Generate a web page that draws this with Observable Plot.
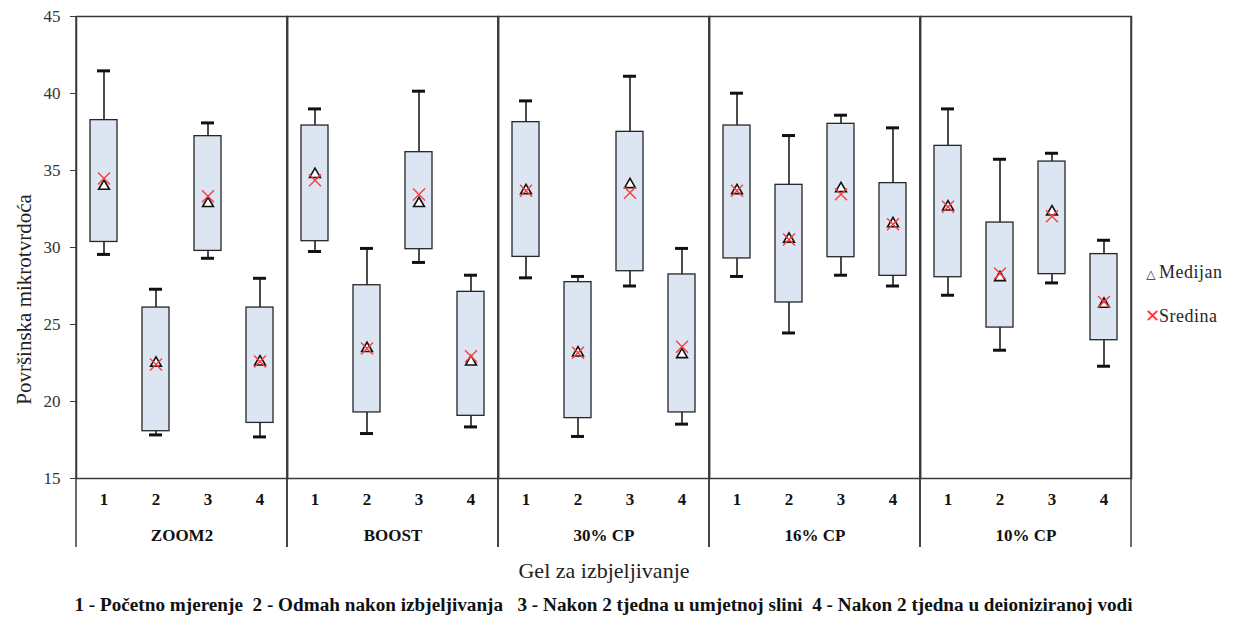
<!DOCTYPE html>
<html>
<head>
<meta charset="utf-8">
<script src="https://cdn.jsdelivr.net/npm/d3@7"></script>
<script src="https://cdn.jsdelivr.net/npm/@observablehq/plot@0.6"></script>
<style>
  html, body { margin: 0; padding: 0; background: #fff; }
  #wrap { position: relative; width: 1235px; height: 619px; font-family: 'Liberation Serif', 'DejaVu Serif', serif; }
  #legend { position: absolute; left: 1145px; top: 251px; font-size: 18px; color: #262626; line-height: 42px; letter-spacing: 0.5px; }
  #legend .sym { display: inline-block; width: 12px; text-align: center; margin-right: 2px; }
  #caption { box-sizing: border-box; width: 1235px; padding-right: 28px; text-align: center; font-weight: bold; font-size: 19.2px; color: #111; white-space: pre; height: 29px; line-height: 29px; }
</style>
</head>
<body>
<div id="wrap">
  <div id="chart"></div>
  <div id="legend">
    <div><span class="sym" style="font-size:12px;">△</span>Medijan</div>
    <div><span class="sym" style="color:#ff3030;">✕</span>Sredina</div>
  </div>
  <div id="caption">1 - Početno mjerenje  2 - Odmah nakon izbjeljivanja   3 - Nakon 2 tjedna u umjetnoj slini  4 - Nakon 2 tjedna u deioniziranoj vodi</div>
</div>
<script>
// Categories
const groups = ["ZOOM2", "BOOST", "30% CP", "16% CP", "10% CP"];
const stages = ["1", "2", "3", "4"];
const yTicks = [15, 20, 25, 30, 35, 40, 45];
const yTitle = "Površinska mikrotvrdoća";
const xTitle = "Gel za izbjeljivanje";

// Box statistics, group-major order (ZOOM2 1..4, BOOST 1..4, ...)
const minVals    = [29.55, 17.83, 29.30, 17.70,  29.74, 17.92, 29.03, 18.35,  28.03, 17.73, 27.50, 18.53,  28.12, 24.45, 28.20, 27.50,  26.90, 23.33, 27.70, 22.29];
const q1Vals     = [30.36, 18.07, 29.78, 18.61,  30.41, 19.29, 29.89, 19.07,  29.39, 18.92, 28.46, 19.29,  29.29, 26.43, 29.37, 28.16,  28.07, 24.80, 28.27, 23.98];
const medianVals = [33.98, 22.50, 32.86, 22.57,  34.75, 23.45, 32.86, 22.57,  33.70, 23.16, 34.09, 23.05,  33.70, 30.55, 33.83, 31.55,  32.64, 28.05, 32.31, 26.32];
const meanVals   = [34.48, 22.40, 33.33, 22.60,  34.37, 23.44, 33.44, 22.94,  33.68, 23.16, 33.55, 23.55,  33.68, 30.52, 33.46, 31.51,  32.64, 28.31, 32.03, 26.47];
const q3Vals     = [38.27, 26.10, 37.23, 26.10,  37.92, 27.55, 36.19, 27.12,  38.14, 27.75, 37.51, 28.25,  37.92, 34.07, 38.03, 34.18,  36.60, 31.62, 35.58, 29.57];
const maxVals    = [41.47, 27.29, 38.09, 28.00,  39.00, 29.94, 40.15, 28.20,  39.52, 28.12, 41.12, 29.94,  40.02, 37.27, 38.59, 37.77,  39.00, 35.73, 36.12, 30.47];

const data = [];
groups.forEach((g, gi) => stages.forEach((s, si) => {
  const i = gi * stages.length + si;
  data.push({group: g, stage: s, min: minVals[i], q1: q1Vals[i], median: medianVals[i], mean: meanVals[i], q3: q3Vals[i], max: maxVals[i]});
}));

const lineColor = "#3a3a3a";
const serif = "'Liberation Serif', 'DejaVu Serif', serif";

// Vertical separators of each facet, extended down through the category labels
function separators(index, scales, values, dimensions) {
  const [x0, x1] = scales.x.range();
  const [yb, yt] = scales.y.range();
  const g = d3.create("svg:g");
  for (const xx of [x0, x1]) {
    g.append("line")
      .attr("x1", xx).attr("x2", xx)
      .attr("y1", yt).attr("y2", yb + 69)
      .attr("stroke", lineColor).attr("stroke-width", 1.5);
  }
  return g.node();
}

const chart = Plot.plot({
  width: 1235,
  height: 590,
  marginTop: 16,
  marginLeft: 74,
  marginRight: 102,
  marginBottom: 112,
  style: {fontFamily: serif, fontSize: "17px", color: "#333", background: "#fff"},
  fx: {domain: groups, padding: 0, label: null},
  x: {domain: stages, paddingInner: 0.49, paddingOuter: 0.245, label: null},
  y: {domain: [15, 45], label: null},
  marks: [
    Plot.frame({stroke: lineColor, strokeWidth: 1.5}),
    separators,
    Plot.axisY({ticks: yTicks, tickSize: 6, tickPadding: 10, stroke: lineColor, fill: "#333", fontSize: 17, fontFamily: serif, label: null}),
    Plot.text([yTitle], {fx: () => groups[0], text: d => d, frameAnchor: "left", rotate: -90, textAnchor: "middle", dx: -52, dy: 52, fontSize: 21, fontFamily: serif, fill: "#222"}),
    Plot.axisX({tickSize: 0, tickPadding: 14, fontWeight: "bold", fontSize: 17, fontFamily: serif, fill: "#111", label: null}),
    Plot.axisFx({anchor: "bottom", tickSize: 0, tickPadding: 50, fontWeight: "bold", fontSize: 17, fontFamily: serif, fill: "#111", label: null}),
    Plot.axisFx({anchor: "bottom", tickSize: 0, tickFormat: () => "", label: xTitle, labelArrow: "none", labelAnchor: "center", labelOffset: 99, fontSize: 22, fontFamily: serif, fill: "#222"}),
    // whiskers
    Plot.ruleX(data, {fx: "group", x: "stage", y1: "min", y2: "q1", stroke: "#111", strokeWidth: 1.5}),
    Plot.ruleX(data, {fx: "group", x: "stage", y1: "q3", y2: "max", stroke: "#111", strokeWidth: 1.5}),
    Plot.tickY(data, {fx: "group", x: "stage", y: "min", stroke: "#111", strokeWidth: 3, insetLeft: 7, insetRight: 7}),
    Plot.tickY(data, {fx: "group", x: "stage", y: "max", stroke: "#111", strokeWidth: 3, insetLeft: 7, insetRight: 7}),
    // boxes
    Plot.barY(data, {fx: "group", x: "stage", y1: "q1", y2: "q3", fill: "#dce6f2", stroke: "#262626", strokeWidth: 1.3}),
    // median (triangle) and mean (x)
    Plot.dot(data, {fx: "group", x: "stage", y: "median", symbol: "triangle", r: 4, fill: "#fff", stroke: "#111", strokeWidth: 1.6}),
    Plot.dot(data, {fx: "group", x: "stage", y: "mean", symbol: "times", r: 5.5, stroke: "#ff3b3b", strokeWidth: 1.4})
  ]
});
document.getElementById("chart").appendChild(chart);
</script>
</body>
</html>
